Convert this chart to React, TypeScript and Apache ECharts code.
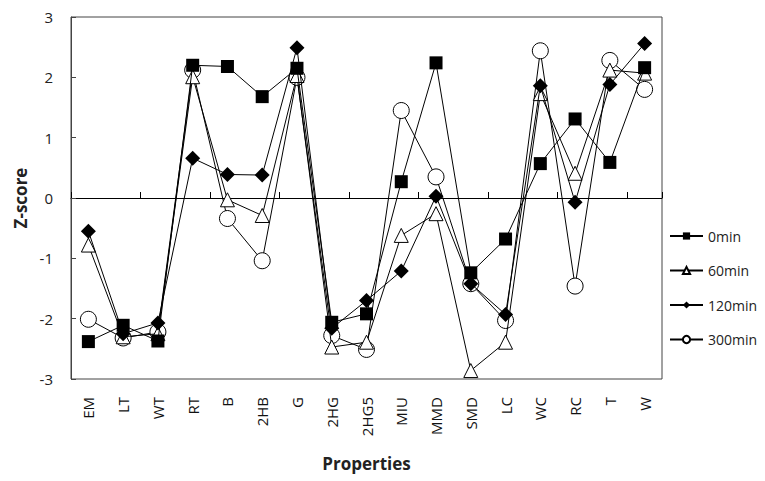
import React, { useEffect, useRef } from "react";
import * as echarts from "echarts";

const categories = ["EM","LT","WT","RT","B","2HB","G","2HG","2HG5","MIU","MMD","SMD","LC","WC","RC","T","W"];
const min0 = [-2.38,-2.11,-2.37,2.20,2.18,1.68,2.15,-2.06,-1.92,0.27,2.24,-1.24,-0.68,0.57,1.31,0.59,2.16];
const min60 = [-0.78,-2.30,-2.25,2.01,-0.03,-0.29,2.03,-2.47,-2.39,-0.62,-0.26,-2.86,-2.39,1.73,0.41,2.12,2.07];
const min120 = [-0.55,-2.25,-2.07,0.66,0.39,0.38,2.49,-2.16,-1.70,-1.21,0.03,-1.42,-1.93,1.86,-0.07,1.88,2.56];
const min300 = [-2.01,-2.32,-2.22,2.12,-0.34,-1.04,2.00,-2.28,-2.51,1.45,0.35,-1.42,-2.03,2.44,-1.46,2.28,1.80];
const yTicks = [-3, 3, 1];

const FONT = "'Open Sans', 'Noto Sans', sans-serif";

export default function App() {
  const ref = useRef<HTMLDivElement>(null);
  useEffect(() => {
    if (!ref.current) return;
    const chart = echarts.init(ref.current, null, { renderer: "svg" });
    const mk = (name: string, data: number[], symbol: string, size: number, fill: string, z: number) => ({
      name,
      type: "line",
      data,
      symbol,
      symbolSize: size,
      z,
      lineStyle: { color: "#000", width: 1 },
      itemStyle: { color: fill, borderColor: "#000", borderWidth: fill === "#fff" ? 1 : 0 },
      xAxisIndex: 0,
      yAxisIndex: 0,
    });
    chart.setOption({
      animation: false,
      backgroundColor: "#fff",
      grid: { left: 71, right: 103, top: 17, bottom: 102, show: true, borderColor: "#444", borderWidth: 1, backgroundColor: "transparent" },
      legend: {
        orient: "vertical",
        left: 664,
        top: 224,
        itemWidth: 33,
        itemHeight: 9,
        itemGap: 20.5,
        textStyle: { fontFamily: FONT, fontSize: 14, color: "#222" },
        data: ["0min", "60min", "120min", "300min"],
      },
      xAxis: [
        {
          type: "category",
          data: categories,
          position: "bottom",
          axisLine: { show: false, onZero: false },
          axisTick: { show: false },
          axisLabel: { rotate: 90, margin: 18, fontFamily: FONT, fontSize: 15, color: "#111" },
          name: "Properties",
          nameLocation: "middle",
          nameGap: 76,
          nameTextStyle: { fontFamily: FONT, fontSize: 17, fontWeight: "bold", color: "#222" },
        },
        {
          type: "category",
          data: categories,
          position: "bottom",
          axisLine: { show: true, onZero: true, lineStyle: { color: "#000", width: 1 } },
          axisTick: { show: true, inside: true, length: 6, lineStyle: { color: "#000" } },
          axisLabel: { show: false },
        },
      ],
      yAxis: {
        type: "value",
        min: yTicks[0],
        max: yTicks[1],
        interval: yTicks[2],
        axisLine: { show: true, lineStyle: { color: "#444" } },
        axisTick: { show: true, inside: true, length: 5, lineStyle: { color: "#444" } },
        splitLine: { show: false },
        axisLabel: { margin: 18, fontFamily: FONT, fontSize: 15, color: "#222" },
        name: "Z-score",
        nameLocation: "middle",
        nameGap: 42,
        nameTextStyle: { fontFamily: FONT, fontSize: 17, fontWeight: "bold", color: "#222" },
      },
      series: [
        mk("0min", min0, "rect", 13, "#000", 6),
        mk("60min", min60, "triangle", 14, "#fff", 4),
        mk("120min", min120, "diamond", 15, "#000", 5),
        mk("300min", min300, "circle", 16, "#fff", 3),
      ],
    });
    return () => chart.dispose();
  }, []);
  return <div ref={ref} style={{ width: 765, height: 481, position: "absolute", left: 0, top: 0 }} />;
}
